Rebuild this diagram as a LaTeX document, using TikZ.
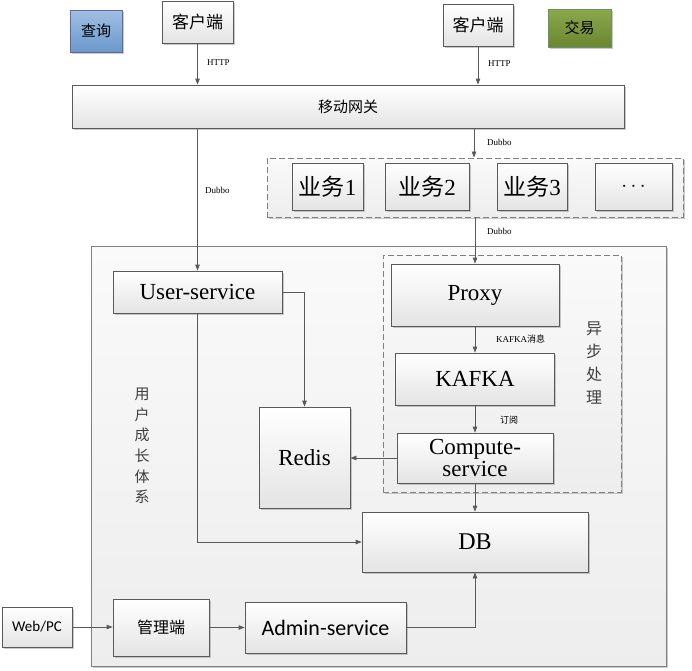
\documentclass[tikz,border=0pt]{standalone}
\usepackage{fontspec}
\setmainfont{Liberation Serif}
\newfontfamily\tnr{Liberation Serif}
\newfontfamily\cjk{Noto Sans CJK SC}
\newfontfamily\calib{Carlito}
\usetikzlibrary{arrows.meta,shadows}
\definecolor{bordc}{HTML}{5A5A5A}
\definecolor{linec}{HTML}{595959}
\definecolor{boxbot}{HTML}{E4E4E4}
\tikzset{
  shd/.style={drop shadow={shadow xshift=1.5pt,shadow yshift=-1.5pt,fill=black!35,opacity=.6}},
  box/.style={draw=bordc,line width=0.8pt,top color=white,bottom color=boxbot,shd,inner sep=0pt,align=center},
  outerbox/.style={draw=black!50,line width=0.9pt,top color=black!2,bottom color=black!7,shd},
  dashbox/.style={draw=black!50,line width=0.9pt,dash pattern=on 6pt off 3pt,top color=black!2,bottom color=black!7,shd},
  arr/.style={draw=linec,line width=0.8pt,-{Triangle[length=6pt,width=4.5pt]}},
  lbl/.style={inner sep=0pt,anchor=west,font=\tnr\fontsize{9}{10}\selectfont},
  vtext/.style={inner sep=0pt,align=center,text=black!75},
}
\begin{document}
\begin{tikzpicture}[x=1pt,y=-1pt]
\useasboundingbox (0,0) rectangle (692,670);
% containers
\node[outerbox,minimum width=575pt,minimum height=420pt] (outer) at (378.5,456) {};
\node[dashbox,minimum width=416pt,minimum height=59pt] (biz) at (475,187.5) {};
\node[dashbox,minimum width=238pt,minimum height=237pt] (async) at (502,373.5) {};
% top legend
\node[draw=black!60!blue!60,line width=0.8pt,top color={rgb,255:red,160;green,192;blue,228},bottom color={rgb,255:red,106;green,152;blue,203},shd,minimum width=52pt,minimum height=42pt,inner sep=0pt,font=\cjk\fontsize{15}{16}\selectfont] (cx) at (96,31) {查询};
\node[draw=black!70!green!60,line width=0.8pt,top color={rgb,255:red,140;green,168;blue,76},bottom color={rgb,255:red,106;green,134;blue,48},shd,minimum width=63pt,minimum height=38pt,inner sep=0pt,font=\cjk\fontsize{15}{16}\selectfont] (jy) at (579.5,28) {交易};
% clients
\node[box,minimum width=71pt,minimum height=42pt,font=\cjk\fontsize{17}{18}\selectfont] (kh1) at (197.5,22) {客户端};
\node[box,minimum width=70pt,minimum height=42pt,font=\cjk\fontsize{17}{18}\selectfont] (kh2) at (478,25) {客户端};
\node[box,minimum width=552pt,minimum height=43pt,font=\cjk\fontsize{15}{16}\selectfont] (gw) at (348,106.5) {移动网关};
% business
\node[box,minimum width=71pt,minimum height=47pt,font=\tnr\fontsize{23}{24}\selectfont] (b1) at (327.5,186.5) {{\cjk 业务}1};
\node[box,minimum width=84pt,minimum height=47pt,font=\tnr\fontsize{23}{24}\selectfont] (b2) at (427,186.5) {{\cjk 业务}2};
\node[box,minimum width=70pt,minimum height=47pt,font=\tnr\fontsize{23}{24}\selectfont] (b3) at (532,186.5) {{\cjk 业务}3};
\node[box,minimum width=77pt,minimum height=47pt,font=\tnr\bfseries\fontsize{22}{24}\selectfont] (b4) at (633.5,186.5) {$\cdots$};
% inner
\node[box,minimum width=169pt,minimum height=42pt,font=\tnr\fontsize{23}{25}\selectfont] (us) at (197.5,292) {User-service};
\node[box,minimum width=91pt,minimum height=101pt,font=\tnr\fontsize{23}{25}\selectfont] (redis) at (304.5,457.5) {Redis};
\node[box,minimum width=168pt,minimum height=62pt,font=\tnr\fontsize{23}{25}\selectfont] (proxy) at (475,295) {Proxy};
\node[box,minimum width=159pt,minimum height=52pt,font=\tnr\fontsize{23}{25}\selectfont] (kafka) at (475,379) {KAFKA};
\node[box,minimum width=156pt,minimum height=50pt,font=\tnr\fontsize{23}{23}\selectfont] (comp) at (475,458) {Compute-\\[-1pt]service};
\node[box,minimum width=226pt,minimum height=60pt,font=\tnr\fontsize{24}{26}\selectfont] (db) at (475,542) {DB};
\node[box,minimum width=70pt,minimum height=40pt,font=\calib\fontsize{15}{16}\selectfont] (web) at (37,627) {Web/PC};
\node[box,minimum width=96pt,minimum height=57pt,font=\cjk\fontsize{16}{17}\selectfont] (gl) at (161,627.5) {管理端};
\node[box,minimum width=161pt,minimum height=51pt,font=\calib\fontsize{22}{24}\selectfont] (admin) at (325.5,627.5) {Admin-service};
% vertical texts
\node[vtext,font=\cjk\fontsize{15}{20.6}\selectfont] (yhcz) at (142,446) {用\\户\\成\\长\\体\\系};
\node[vtext,font=\cjk\fontsize{16}{23}\selectfont] (ybcl) at (594,363) {异\\步\\处\\理};
% connectors
\draw[arr] (kh1.south) -- (kh1.south |- gw.north);
\node[lbl] (h1) at (207,63) {HTTP};
\draw[arr] (kh2.south) -- (kh2.south |- gw.north);
\node[lbl] (h2) at (488,64) {HTTP};
\coordinate (g2) at (474,0);
\draw[arr] (g2 |- gw.south) -- (g2 |- biz.north);
\node[lbl] (d1) at (487,142) {Dubbo};
\draw[arr] (us.north |- gw.south) -- (us.north);
\node[lbl] (d2) at (205,190) {Dubbo};
\draw[arr] (proxy.north |- biz.south) -- (proxy.north);
\node[lbl] (d3) at (487,231) {Dubbo};
\draw[arr] (us.east) -| (redis.north);
\draw[arr] (us.south) |- (db.west);
\draw[arr] (proxy.south) -- (proxy.south |- kafka.north);
\node[lbl] (km) at (496,339) {KAFKA{\cjk 消息}};
\draw[arr] (kafka.south) -- (kafka.south |- comp.north);
\node[lbl,font=\cjk\fontsize{9}{10}\selectfont] (dy) at (500,420) {订阅};
\draw[arr] (comp.west) -- (redis.east |- comp.west);
\draw[arr] (comp.south) -- (comp.south |- db.north);
\draw[arr] (web.east) -- (gl.west |- web.east);
\draw[arr] (gl.east) -- (admin.west |- gl.east);
\draw[arr] (admin.east) -| (db.south);
\end{tikzpicture}
\end{document}
